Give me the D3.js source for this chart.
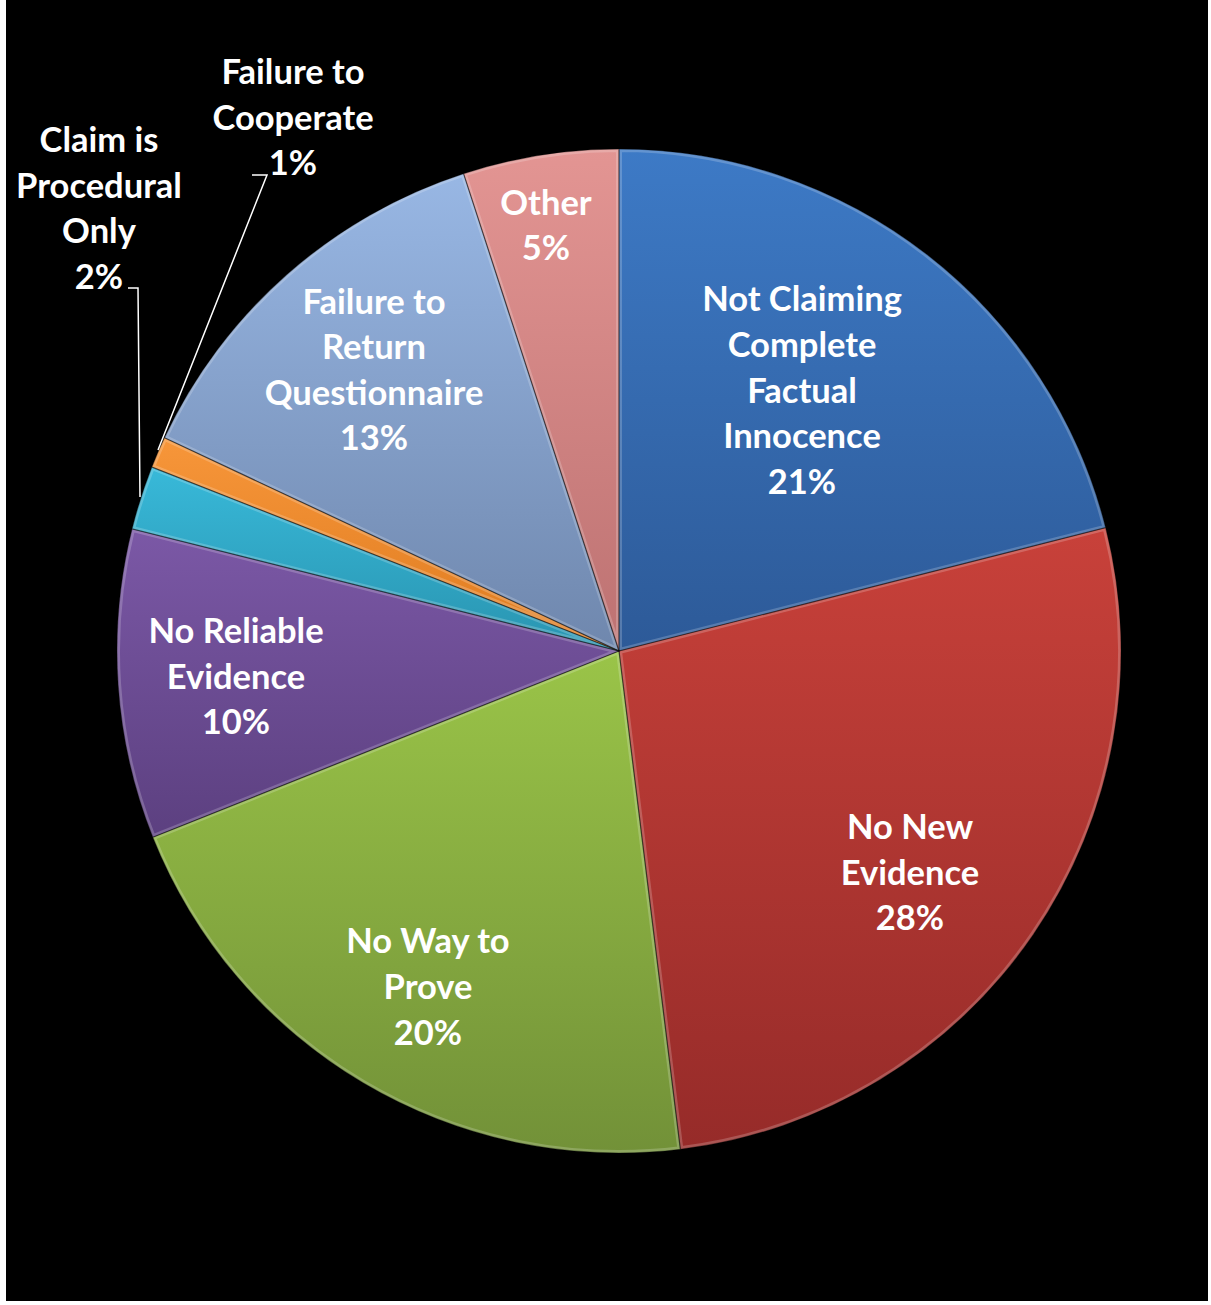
<!DOCTYPE html>
<html><head><meta charset="utf-8">
<script src="https://cdn.jsdelivr.net/npm/d3@7/dist/d3.min.js"></script>
<style>
html,body{margin:0;padding:0;background:#fff;}
svg{display:block;}
text{font-family:Lato,"Open Sans",sans-serif;font-weight:700;fill:#fff;}
</style></head>
<body>
<svg id="chart" width="1211" height="1305"></svg>
<script>
// ---- data ----
const categories = [
  ["Not Claiming","Complete","Factual","Innocence"],
  ["No New","Evidence"],
  ["No Way to","Prove"],
  ["No Reliable","Evidence"],
  ["Claim is","Procedural","Only"],
  ["Failure to","Cooperate"],
  ["Failure to","Return","Questionnaire"],
  ["Other"]
];
const values = [21.05, 27.0, 20.9, 9.96, 2.06, 1.01, 13.01, 5.01];
const percentLabels = ["21%","28%","20%","10%","2%","1%","13%","5%"];
const colorsTop = ["#3d7ac6","#c8413a","#9ac448","#7b58a6","#38b9d9","#f7963a","#98b7e4","#e39593"];
const colorsBot = ["#2d5a98","#962b29","#729138","#5c4080","#2994b0","#de7b1f","#6f87ad","#bd7272"];

// ---- layout ----
const cx = 619, cy = 651, R = 502;
const lineH = 45.6;
const fontSize = 34.5;
// label block centres (inside labels) / block tops (outside labels)
const labelPos = [[802,390.5],[910,872.5],[428,987],[236,676.5],null,null,[374,370],[546,225.5]];
const outside = {
  4: {x: 99, y: 140, leader: [[128,288],[138,288],[140,497]]},
  5: {x: 293, y: 72, leader: [[252,175],[267,175],[158,450]]}
};

const svg = d3.select("#chart");
svg.append("rect").attr("x",6).attr("y",0).attr("width",1202).attr("height",1301).attr("fill","#000");

const defs = svg.append("defs");
colorsTop.forEach((c,i)=>{
  const g = defs.append("linearGradient").attr("id","g"+i)
    .attr("x1",0).attr("y1",0).attr("x2",0).attr("y2",1);
  g.append("stop").attr("offset","0%").attr("stop-color",c);
  g.append("stop").attr("offset","100%").attr("stop-color",colorsBot[i]);
});

const pie = d3.pie().sort(null).value(d=>d).startAngle(0).endAngle(2*Math.PI);
const arcs = pie(values);
const arc = d3.arc().innerRadius(0).outerRadius(R);

const g = svg.append("g").attr("transform",`translate(${cx},${cy})`);
arcs.forEach((a,i)=>{
  defs.append("clipPath").attr("id","c"+i).append("path").attr("d",arc(a));
});
g.selectAll("path.slice").data(arcs).join("path").attr("class","slice")
  .attr("d",arc).attr("fill",(d,i)=>`url(#g${i})`);
// inner bevel highlight
g.selectAll("path.bevel").data(arcs).join("path").attr("class","bevel")
  .attr("d",arc).attr("fill","none").attr("stroke","rgba(255,255,255,0.2)")
  .attr("stroke-width",6).attr("clip-path",(d,i)=>`url(#c${i})`);
g.selectAll("path.edge").data(arcs).join("path").attr("class","edge")
  .attr("d",arc).attr("fill","none").attr("stroke","rgba(0,0,0,0.35)")
  .attr("stroke-width",1.2);

// labels
arcs.forEach((a,i)=>{
  const lines = categories[i].concat([percentLabels[i]]);
  let x, y0;
  if (labelPos[i]) {
    x = labelPos[i][0];
    y0 = labelPos[i][1] - (lines.length-1)*lineH/2;
  } else {
    x = outside[i].x; y0 = outside[i].y;
    svg.append("path").attr("d", d3.line()(outside[i].leader))
      .attr("fill","none").attr("stroke","#fff").attr("stroke-width",1.5);
  }
  const t = svg.append("text").attr("text-anchor","middle").attr("font-size",fontSize);
  lines.forEach((ln,k)=>{
    t.append("tspan").attr("x",x).attr("y",y0+k*lineH).attr("dy","0.35em").text(ln);
  });
});
</script>
</body></html>
